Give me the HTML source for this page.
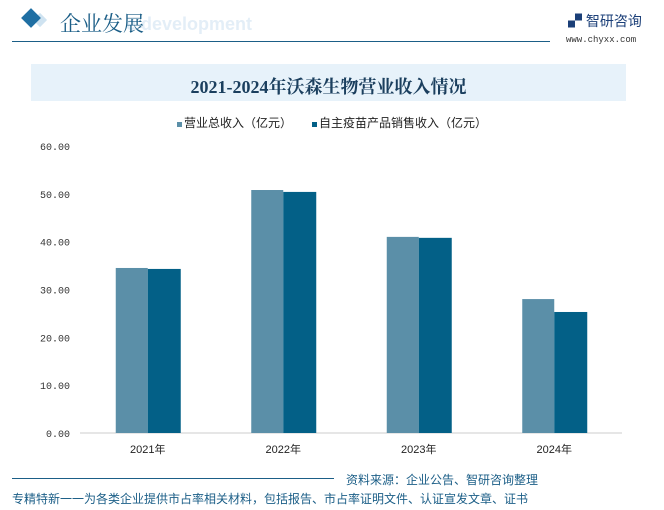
<!DOCTYPE html>
<html><head><meta charset="utf-8"><style>
body{margin:0;width:664px;height:510px;background:#fff;position:relative;overflow:hidden;font-family:"Liberation Sans","Noto Sans CJK SC",sans-serif}
.a{position:absolute}
</style></head><body>
<div class="a" style="left:24px;top:11px;width:14px;height:14px;background:#1f6fa3;transform:rotate(45deg)"></div>
<div class="a" style="left:35px;top:15px;width:10px;height:10px;background:#cfe3f1;transform:rotate(45deg);z-index:-1"></div>
<div class="a" style="left:126px;top:14px;font-size:18px;font-weight:bold;color:#e3eef7">e development</div>
<div class="a" style="left:60px;top:8px;font-size:21px;color:#1b5e87;font-family:'Noto Serif CJK SC',serif">企业发展</div>
<div class="a" style="left:568px;top:11px;font-size:14px;color:#1b3f78">▞ 智研咨询</div>
<div class="a" style="left:566px;top:35px;font-size:9px;color:#333;font-family:'Liberation Mono',monospace">www.chyxx.com</div>
<div class="a" style="left:12px;top:41px;width:538px;height:1px;background:#1b5e87"></div>
<div class="a" style="left:31px;top:64px;width:595px;height:37px;background:#e7f2fa"></div>
<div class="a" style="left:31px;top:73px;width:595px;text-align:center;font-size:18px;font-weight:bold;color:#1b3f5e;font-family:'Liberation Serif','Noto Serif CJK SC',serif">2021-2024年沃森生物营业收入情况</div>
<div class="a" style="left:177px;top:114px;font-size:12px;color:#222"><span style="display:inline-block;width:5px;height:5px;background:#5b8fa8;margin-right:2px"></span>营业总收入（亿元）</div>
<div class="a" style="left:312px;top:114px;font-size:12px;color:#222"><span style="display:inline-block;width:5px;height:5px;background:#036087;margin-right:2px"></span>自主疫苗产品销售收入（亿元）</div>
<svg class="a" style="left:0;top:0" width="664" height="510" id="chart"></svg>
<div class="a" style="left:12px;top:478px;width:322px;height:1px;background:#1b5e87"></div>
<div class="a" style="left:346px;top:471px;font-size:12px;color:#1b5e87">资料来源：企业公告、智研咨询整理</div>
<div class="a" style="left:12px;top:490px;font-size:12px;color:#1b5e87">专精特新一一为各类企业提供市占率相关材料，包括报告、市占率证明文件、认证宣发文章、证书</div>
<script>
const categories=["2021年","2022年","2023年","2024年"];
const totalRevenue=[34.5,50.8,41.0,28.0];
const vaccineRevenue=[34.3,50.4,40.8,25.3];
const yTicks=[0,10,20,30,40,50,60];
const NS="http://www.w3.org/2000/svg";
const svg=document.getElementById('chart');
const x0=80,x1=622,yBase=433,yTop=146;
const y=v=>yBase-(v/60)*(yBase-yTop);
const band=(x1-x0)/categories.length;
const cx=i=>x0+band*(i+0.5);
function mk(t,a){const e=document.createElementNS(NS,t);for(const k in a)e.setAttribute(k,a[k]);svg.appendChild(e);return e;}
yTicks.forEach(v=>{const t=mk('text',{x:70,y:y(v)+4,'text-anchor':'end','font-size':10,fill:'#333','font-family':'Liberation Mono, monospace'});t.textContent=v.toFixed(2);

});
const ax=mk('line',{x1:x0,x2:x1,y1:yBase,y2:yBase,stroke:'#ccc'});


const bw=32;
categories.forEach((c,i)=>{
const r1=mk('rect',{x:cx(i)-bw,y:y(totalRevenue[i]),width:bw,height:yBase-y(totalRevenue[i]),fill:'#5b8fa8'});


const r2=mk('rect',{x:cx(i),y:y(vaccineRevenue[i]),width:bw+1,height:yBase-y(vaccineRevenue[i]),fill:'#036087'});


const t=mk('text',{x:cx(i),y:453,'text-anchor':'middle','font-size':11,fill:'#222'});t.textContent=c;


});
</script>
</body></html>
